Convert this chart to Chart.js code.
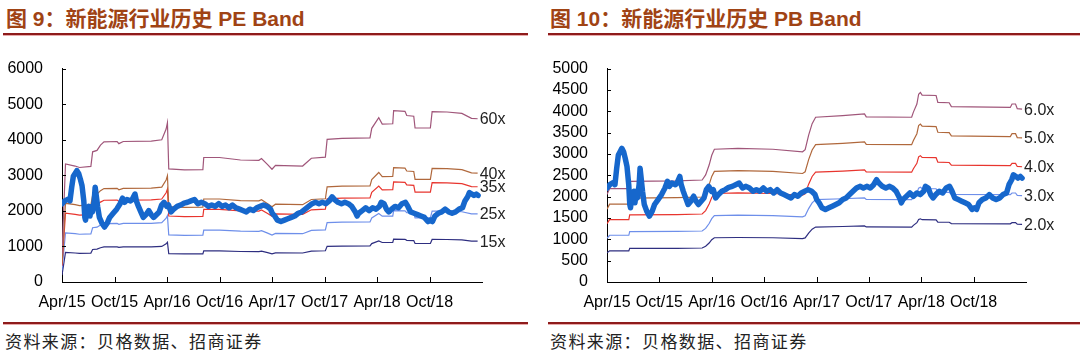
<!DOCTYPE html>
<html><head><meta charset="utf-8">
<script src="https://cdn.jsdelivr.net/npm/chart.js@4.4.1/dist/chart.umd.min.js"></script>
<style>
html,body{margin:0;padding:0;background:#fff;width:1080px;height:359px;overflow:hidden;position:relative;}
.title{position:absolute;top:8px;font:bold 21px/1 "Liberation Sans","Noto Sans CJK SC",sans-serif;color:#A04314;white-space:nowrap;}
.rule{position:absolute;height:2px;background:#8E1B1B;box-shadow:0 1px 0 #E8AAAA;}
.src{position:absolute;top:332px;font:17px/1 "Noto Sans CJK SC",sans-serif;color:#222;letter-spacing:1.4px;white-space:nowrap;}
canvas{position:absolute;}
</style></head><body>
<div class="title" style="left:6px">图 9：新能源行业历史 PE Band</div>
<div class="title" style="left:550px">图 10：新能源行业历史 PB Band</div>
<div class="rule" style="left:3px;width:525px;top:33px"></div>
<div class="rule" style="left:548px;width:532px;top:33px"></div>
<canvas id="pe" width="540" height="280" style="left:0;top:40px"></canvas>
<canvas id="pb" width="540" height="280" style="left:540px;top:40px"></canvas>
<div class="rule" style="left:3px;width:525px;top:322px"></div>
<div class="rule" style="left:548px;width:532px;top:322px"></div>
<div class="src" style="left:5px">资料来源：贝格数据、招商证券</div>
<div class="src" style="left:550px">资料来源：贝格数据、招商证券</div>
<script>
// ---- data (x = months since Apr 2015) ----
const xTickLabels = ['Apr/15','Oct/15','Apr/16','Oct/16','Apr/17','Oct/17','Apr/18','Oct/18'];

const idxX = [0,0.32,0.71,0.91,1.11,1.30,1.50,1.70,1.90,2.09,
2.29,2.49,2.61,2.69,2.89,3.08,3.20,3.36,3.48,3.68,
3.79,3.91,4.07,4.27,4.55,4.86,5.18,5.45,5.85,6.25,
6.64,6.92,7.15,7.43,7.83,8.02,8.34,8.50,8.74,9.01,
9.29,9.60,9.92,10.20,10.47,10.79,11.11,11.38,11.66,11.98,
12.17,12.45,12.77,13.16,13.56,13.95,14.35,14.74,15.14,15.53,
15.93,16.32,16.72,17.11,17.51,17.91,18.30,18.70,19.09,19.49,
19.88,20.28,20.67,21.07,21.46,21.86,22.25,22.65,23.04,23.44,
23.83,24.03,24.31,24.62,25.02,25.42,25.81,26.21,26.60,27.00,
27.39,27.79,28.18,28.58,28.97,29.37,29.76,30.16,30.55,30.87,
31.15,31.54,31.94,32.33,32.73,33.12,33.52,33.72,33.91,34.31,
34.70,35.10,35.49,35.89,36.28,36.48,36.80,37.08,37.35,37.67,
38.06,38.46,38.85,39.25,39.53,39.84,40.24,40.63,41.03,41.42,
41.82,42.09,42.33,42.61,43.00,43.40,43.79,44.19,44.58,44.98,
45.38,45.77,46.05,46.36,46.56,46.84,47.08,47.35,47.55];
const idxV = [2200,2280,2330,2280,2666,2975,3053,3130,3053,2898,
2705,2280,1816,1739,2048,2125,1855,2125,1970,2280,
2666,2434,2125,1816,1661,1545,1661,1816,1932,2048,
2202,2357,2241,2318,2280,2318,2473,2280,2125,1970,
1816,1893,2009,1893,1816,1893,1970,2164,2241,2125,
2164,1970,2048,2125,2164,2218,2241,2280,2318,2202,
2241,2202,2125,2164,2125,2202,2125,2164,2087,2164,
2087,2048,2009,1970,2048,2009,2087,2125,2164,2125,
2048,1932,1855,1739,1700,1739,1777,1816,1855,1932,
1970,2048,2125,2202,2241,2202,2241,2202,2280,2396,
2318,2241,2202,2241,2202,2125,1970,1855,1932,2009,
2087,2009,2087,2048,2125,2241,2202,2048,1970,2048,
2125,2087,2202,2241,2125,1970,1932,1893,1855,1816,
1700,1739,1700,1855,1932,1970,2048,1970,1932,1970,
2048,2087,2280,2396,2512,2473,2434,2473,2434];

const peBandX = [0,0.4,0.45,1.5,2.0,3.3,3.5,4.0,4.4,4.8,6.3,6.5,7.0,10.2,11.4,11.9,12.05,12.2,14.0,16.1,16.2,18.0,20.4,22.5,22.8,23.5,24.0,24.4,27.5,28.5,30.1,30.3,32.0,35.2,35.4,36.2,36.6,37.8,37.9,39.2,39.4,40.2,40.35,42.1,42.3,44.0,45.7,46.8,47.5];
const pe60 = [780,3320,3320,3260,3220,3250,3660,3700,3850,3940,3950,3890,3950,3960,4000,4300,4480,3180,3150,3160,3500,3500,3430,3420,3470,3300,3170,3280,3260,3480,3510,4010,4040,4050,4320,4620,4440,4450,4820,4800,4680,4660,4330,4330,4790,4780,4740,4600,4590];
const pe40 = [520,2213,2213,2173,2147,2167,2440,2467,2567,2627,2633,2593,2633,2640,2667,2867,2987,2120,2100,2107,2333,2333,2287,2280,2313,2200,2113,2187,2173,2320,2340,2673,2693,2700,2880,3080,2960,2967,3213,3200,3120,3107,2887,2887,3193,3187,3160,3067,3060];
const pe35 = [455,1937,1937,1902,1878,1896,2135,2158,2246,2298,2304,2269,2304,2310,2333,2508,2613,1855,1838,1843,2042,2042,2001,1995,2024,1925,1849,1913,1902,2030,2048,2339,2357,2363,2520,2695,2590,2596,2812,2800,2730,2718,2526,2526,2794,2788,2765,2683,2678];
const pe25 = [325,1383,1383,1358,1342,1354,1525,1542,1604,1642,1646,1621,1646,1650,1667,1792,1867,1325,1313,1317,1458,1458,1429,1425,1446,1375,1321,1367,1358,1450,1463,1671,1683,1688,1800,1925,1850,1854,2008,2000,1950,1942,1804,1804,1996,1992,1975,1917,1913];
const pe15 = [195,830,830,815,805,813,915,925,963,985,988,973,988,990,1000,1075,1120,795,788,790,875,875,858,855,868,825,793,820,815,870,878,1003,1010,1013,1080,1155,1110,1113,1205,1200,1170,1165,1083,1083,1198,1195,1185,1150,1148];
const peBandLabels = ['60x','40x','35x','25x','15x'];

const pbBandX = [0,0.3,2.5,2.6,8.0,10.9,11.3,11.7,12.0,12.3,15.0,19.0,22.4,22.7,23.1,23.5,23.9,27.0,29.5,29.7,34.9,35.1,35.5,35.7,35.9,36.1,37.7,37.9,39.2,39.45,46.2,46.4,46.8,47.0,47.55];
const pb6 = [2050,2190,2190,2360,2370,2390,2510,2740,2970,3110,3130,3110,3050,3100,3440,3710,3860,3900,3940,3870,3860,3980,4170,4400,4440,4380,4370,4210,4200,4110,4090,4170,4170,4060,4050];
const pb5 = [1708,1825,1825,1967,1975,1992,2092,2283,2475,2592,2608,2592,2542,2583,2867,3092,3217,3250,3283,3225,3217,3317,3475,3667,3700,3650,3642,3508,3500,3425,3408,3475,3475,3383,3375];
const pb4 = [1367,1460,1460,1573,1580,1593,1673,1827,1980,2073,2087,2073,2033,2067,2293,2473,2573,2600,2627,2580,2573,2653,2780,2933,2960,2920,2913,2807,2800,2740,2727,2780,2780,2707,2700];
const pb3 = [1025,1095,1095,1180,1185,1195,1255,1370,1485,1555,1565,1555,1525,1550,1720,1855,1930,1950,1970,1935,1930,1990,2085,2200,2220,2190,2185,2105,2100,2055,2045,2085,2085,2030,2025];
const pb2 = [683,730,730,787,790,797,837,913,990,1037,1043,1037,1017,1033,1147,1237,1287,1300,1313,1290,1287,1327,1390,1467,1480,1460,1457,1403,1400,1370,1363,1390,1390,1353,1350];
const pbBandLabels = ['6.0x','5.0x','4.0x','3.0x','2.0x'];

// ---- styles ----
const FONT = '"Liberation Sans", Arial, sans-serif';
const IDX_COLOR = '#1667CC';
const BAND_COLORS = ['#A0567A','#B0683C','#E8352E','#6E8FEA','#2E2E80'];

function pts(xs, ys){ return xs.map((x,i)=>({x:x, y:ys[i]})); }

const decor = {
  id:'decor',
  afterDatasetsDraw(chart){
    const ctx = chart.ctx, x = chart.scales.x, y = chart.scales.y;
    ctx.save();
    ctx.strokeStyle = '#000'; ctx.lineWidth = 1;
    ctx.beginPath();
    x.ticks.forEach(t=>{ if(t.value>0 && t.value<48){ const px=Math.round(x.getPixelForValue(t.value))+0.5; ctx.moveTo(px,y.bottom); ctx.lineTo(px,y.bottom-5);} });
    y.ticks.forEach(t=>{ if(t.value>0){ const py=Math.round(y.getPixelForValue(t.value))+0.5; ctx.moveTo(x.left,py); ctx.lineTo(x.left+4,py);} });
    ctx.stroke();
    ctx.font = '16px ' + FONT; ctx.fillStyle = '#222'; ctx.textBaseline = 'middle'; ctx.textAlign = 'left';
    chart.data.datasets.forEach((ds,i)=>{
      if(!ds.endLabel) return;
      const meta = chart.getDatasetMeta(i);
      const p = meta.data[meta.data.length-1];
      ctx.fillText(ds.endLabel, p.x+2, p.y+1);
    });
    ctx.restore();
  }
};

function build(id, bands, bandX, bandLabels, yMax, yStep, yWidth, padRight, padTop){
  const datasets = [{data:pts(idxX, idxV), borderColor:IDX_COLOR, borderWidth:5.5, pointRadius:0, tension:0, borderJoinStyle:'round', borderCapStyle:'round'}];
  bands.forEach((b,i)=>datasets.push({data:pts(bandX,b), borderColor:BAND_COLORS[i], borderWidth:1.2, pointRadius:0, tension:0, endLabel:bandLabels[i]}));
  return new Chart(document.getElementById(id), {
    type:'line',
    data:{datasets},
    options:{
      responsive:false, animation:false, devicePixelRatio:1,
      layout:{padding:{left:0,right:padRight,top:padTop,bottom:8}},
      plugins:{legend:{display:false}, tooltip:{enabled:false}},
      scales:{
        x:{type:'linear', min:0, max:48,
           grid:{display:false, drawTicks:false}, border:{display:true,color:'#000',width:1},
           ticks:{stepSize:6, autoSkip:false, maxRotation:0, padding:11, color:'#000', font:{family:FONT,size:16},
                  callback:(v)=>{ const k=Math.round(v/6); return (Math.abs(v-k*6)<1e-6 && xTickLabels[k]) ? xTickLabels[k] : ''; }},
           afterFit:(s)=>{ s.height = 30; }},
        y:{type:'linear', min:0, max:yMax,
           grid:{display:false, drawTicks:false}, border:{display:true,color:'#000',width:1},
           ticks:{stepSize:yStep, autoSkip:false, padding:19, color:'#000', font:{family:FONT,size:16}, callback:(v)=>String(v)},
           afterFit:(s)=>{ s.width = yWidth; }}
      }
    },
    plugins:[decor]
  });
}

build('pe', [pe60,pe40,pe35,pe25,pe15], peBandX, peBandLabels, 6000, 1000, 62, 58, 27);
build('pb', [pb6,pb5,pb4,pb3,pb2], pbBandX, pbBandLabels, 5000, 500, 67, 54, 25);
</script>
</body></html>
